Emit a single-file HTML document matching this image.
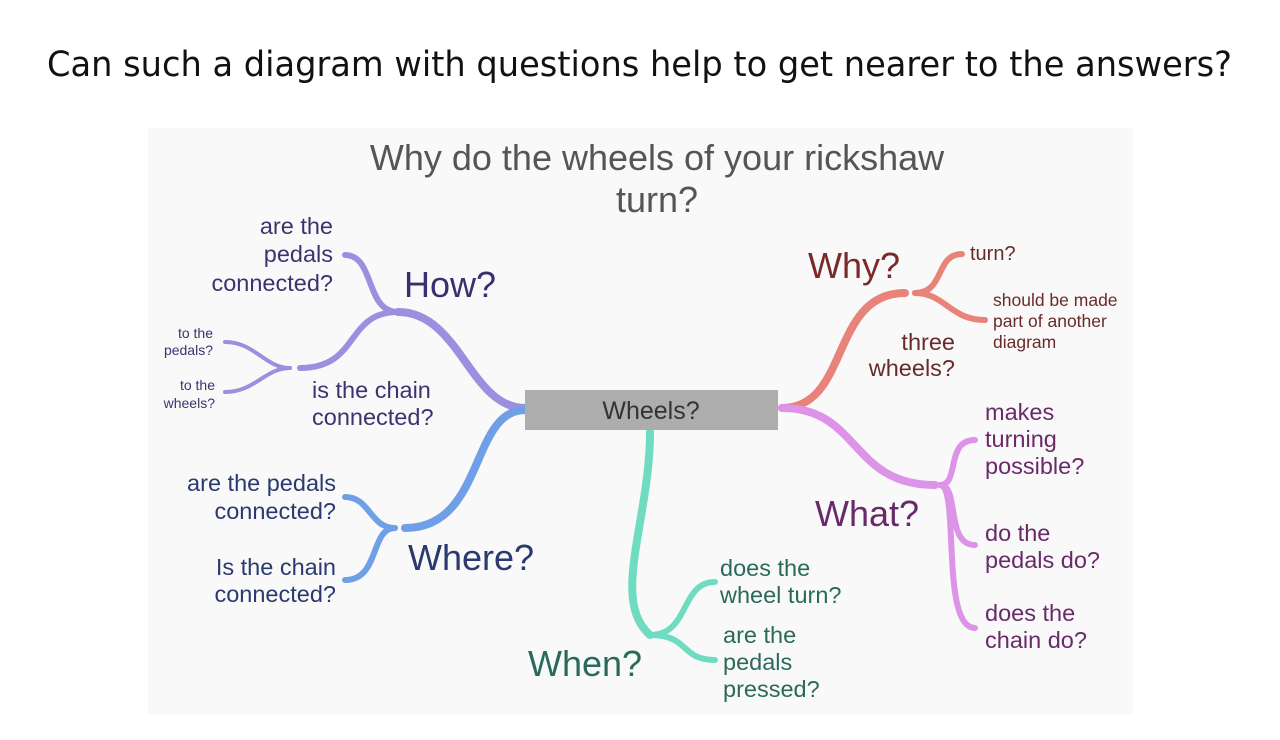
<!DOCTYPE html>
<html><head><meta charset="utf-8"><style>
body{margin:0;width:1280px;height:735px;background:#fff;overflow:hidden;font-family:"Liberation Sans",sans-serif}
</style></head><body>
<svg width="1280" height="735" xmlns="http://www.w3.org/2000/svg" font-family="Liberation Sans, sans-serif">
<text x="47" y="76" textLength="1185" lengthAdjust="spacingAndGlyphs" font-family="DejaVu Sans, sans-serif" font-size="35" fill="#111">Can such a diagram with questions help to get nearer to the answers?</text>
<rect x="148" y="128" width="985" height="586" fill="#f9f9f9"/>
<text x="657" y="170" text-anchor="middle" font-size="36" fill="#555">Why do the wheels of your rickshaw</text>
<text x="657" y="212" text-anchor="middle" font-size="36" fill="#555">turn?</text>
<g fill="none" stroke-linecap="round">
<g stroke="#9b8fe0">
<path d="M525,408 C470,408 460,312 398,312" stroke-width="8"/>
<path d="M398,312 C365,312 375,255 345,255" stroke-width="6"/>
<path d="M398,312 C345,312 360,368 300,368" stroke-width="6"/>
<path d="M290,368 C265,368 255,342 225,342" stroke-width="4"/>
<path d="M290,368 C265,368 255,392 225,392" stroke-width="4"/>
</g>
<g stroke="#6f9fe6">
<path d="M525,410 C470,410 485,528 405,528" stroke-width="8"/>
<path d="M395,528 C370,528 370,497 345,497" stroke-width="6"/>
<path d="M395,528 C370,528 380,580 345,580" stroke-width="6"/>
</g>
<g stroke="#6fdcc2">
<path d="M650,432 C650,520 610,600 650,635" stroke-width="8"/>
<path d="M650,635 C690,635 680,582 715,582" stroke-width="6"/>
<path d="M650,635 C690,635 680,660 715,660" stroke-width="6"/>
</g>
<g stroke="#e8837a">
<path d="M782,408 C850,408 830,293 905,293" stroke-width="8"/>
<path d="M915,293 C945,293 935,254 962,254" stroke-width="6"/>
<path d="M915,293 C945,293 950,320 985,320" stroke-width="6"/>
</g>
<g stroke="#dc93e8">
<path d="M782,408 C860,408 850,485 935,485" stroke-width="8"/>
<path d="M940,485 C960,485 945,440 975,440" stroke-width="6"/>
<path d="M940,485 C960,485 945,545 975,545" stroke-width="6"/>
<path d="M940,485 C960,485 940,628 975,628" stroke-width="6"/>
</g>
</g>
<rect x="525" y="390" width="253" height="40" fill="#adadad"/>
<text x="651" y="419" text-anchor="middle" font-size="25" fill="#333">Wheels?</text>
<g font-size="23.5" fill="#3a3470" text-anchor="end">
<text x="333" y="234">are the</text><text x="333" y="262">pedals</text><text x="333" y="291">connected?</text>
<text x="213" y="338" font-size="14">to the</text><text x="213" y="355" font-size="14">pedals?</text>
<text x="215" y="390" font-size="14">to the</text><text x="215" y="408" font-size="14">wheels?</text>
<text x="336" y="491" fill="#2a3a6e">are the pedals</text><text x="336" y="519" fill="#2a3a6e">connected?</text>
<text x="336" y="575" fill="#2a3a6e">Is the chain</text><text x="336" y="602" fill="#2a3a6e">connected?</text>
<text x="955" y="350" fill="#6a2a2a">three</text><text x="955" y="376" fill="#6a2a2a">wheels?</text>
</g>
<g font-size="23.5" fill="#3a3470">
<text x="312" y="398">is the chain</text><text x="312" y="425">connected?</text>
<g fill="#2a6a5a"><text x="720" y="576">does the</text><text x="720" y="603">wheel turn?</text>
<text x="723" y="643">are the</text><text x="723" y="670">pedals</text><text x="723" y="697">pressed?</text></g>
<g fill="#6a2a6a"><text x="985" y="420">makes</text><text x="985" y="447">turning</text><text x="985" y="474">possible?</text>
<text x="985" y="541">do the</text><text x="985" y="568">pedals do?</text>
<text x="985" y="621">does the</text><text x="985" y="648">chain do?</text></g>
<g fill="#6a2a2a"><text x="970" y="260" font-size="20">turn?</text>
<text x="993" y="306" font-size="17.5">should be made</text><text x="993" y="327" font-size="17.5">part of another</text><text x="993" y="348" font-size="17.5">diagram</text></g>
</g>
<g font-size="36">
<text x="404" y="297" fill="#3a3070">How?</text>
<text x="408" y="570" fill="#2a3a6e">Where?</text>
<text x="528" y="676" fill="#2a6a5a">When?</text>
<text x="808" y="278" fill="#7a2a2a">Why?</text>
<text x="815" y="526" fill="#6a2a6a">What?</text>
</g>
</svg>
</body></html>
